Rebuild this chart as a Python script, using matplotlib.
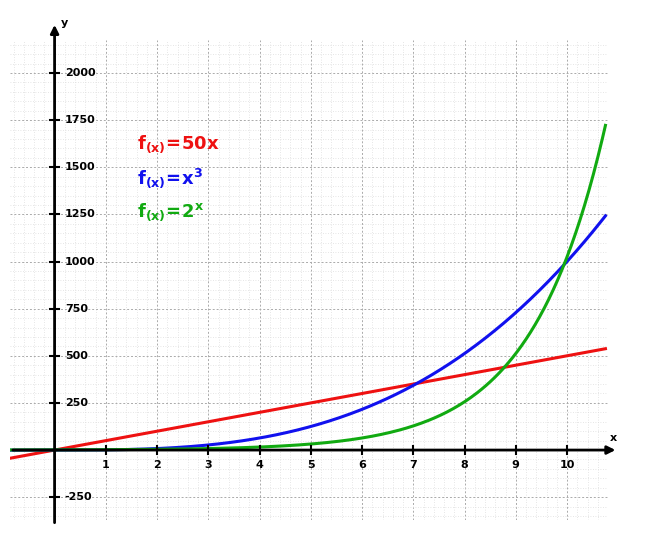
import numpy as np
import matplotlib
matplotlib.use("Agg")
import matplotlib.pyplot as plt

x_vals = np.linspace(-0.9, 10.75, 400)
x_ticks = [1, 2, 3, 4, 5, 6, 7, 8, 9, 10]
y_ticks = [-250, 250, 500, 750, 1000, 1250, 1500, 1750, 2000]
labels = [r"$\mathbf{f_{(x)}\!=\!50x}$", r"$\mathbf{f_{(x)}\!=\!x^3}$", r"$\mathbf{f_{(x)}\!=\!2^x}$"]
colors = ["#ee1111", "#1111ee", "#11aa11"]
label_y = [1620, 1440, 1260]

W, H = 648, 542
fig = plt.figure(figsize=(W / 100, H / 100), dpi=100)
ax = fig.add_axes([10 / W, 1 - 520 / H, 598 / W, 480 / H])
ax.set_xlim(-0.87, 10.75)
ax.set_ylim(-371, 2175)

ax.set_xticks(np.arange(-0.8, 10.8, 0.2), minor=True)
ax.set_yticks(np.arange(-350, 2200, 50), minor=True)
ax.set_xticks(range(0, 11))
ax.set_yticks(range(-250, 2001, 250))
ax.grid(which="major", color="#aaaaaa", linestyle=(0, (2, 2)), linewidth=0.7)
ax.grid(which="minor", color="#dddddd", linestyle=(0, (1, 2)), linewidth=0.6)
ax.tick_params(which="both", length=0, labelleft=False, labelbottom=False)
for s in ax.spines.values():
    s.set_visible(False)

ys = [50 * x_vals, x_vals ** 3, 2 ** x_vals]
for y, c in zip(ys, colors):
    ax.plot(x_vals, y, color=c, linewidth=2.2, zorder=3)

# axes with arrows
ax.annotate("", xy=(11.0, 0), xytext=(-0.87, 0), annotation_clip=False,
            arrowprops=dict(arrowstyle="-|>", color="black", lw=2, mutation_scale=12))
ax.annotate("", xy=(0, 2270), xytext=(0, -400), annotation_clip=False,
            arrowprops=dict(arrowstyle="-|>", color="black", lw=2, mutation_scale=12))
ax.text(10.9, 50, "x", fontsize=8, fontweight="bold", ha="center")
ax.text(0.2, 2250, "y", fontsize=8, fontweight="bold", ha="center", clip_on=False)

for t in x_ticks:
    ax.plot([t, t], [-20, 20], color="black", lw=1.5, zorder=4)
    ax.text(t, -80, str(t), ha="center", va="center", fontsize=8, fontweight="bold")
for t in y_ticks:
    ax.plot([-0.08, 0.08], [t, t], color="black", lw=1.5, zorder=4)
    ax.text(0.2, t, str(t), ha="left", va="center", fontsize=8, fontweight="bold")

for lab, c, ly in zip(labels, colors, label_y):
    ax.text(1.6, ly, lab, color=c, fontsize=13, va="center")

fig.savefig("out.png", dpi=100)
